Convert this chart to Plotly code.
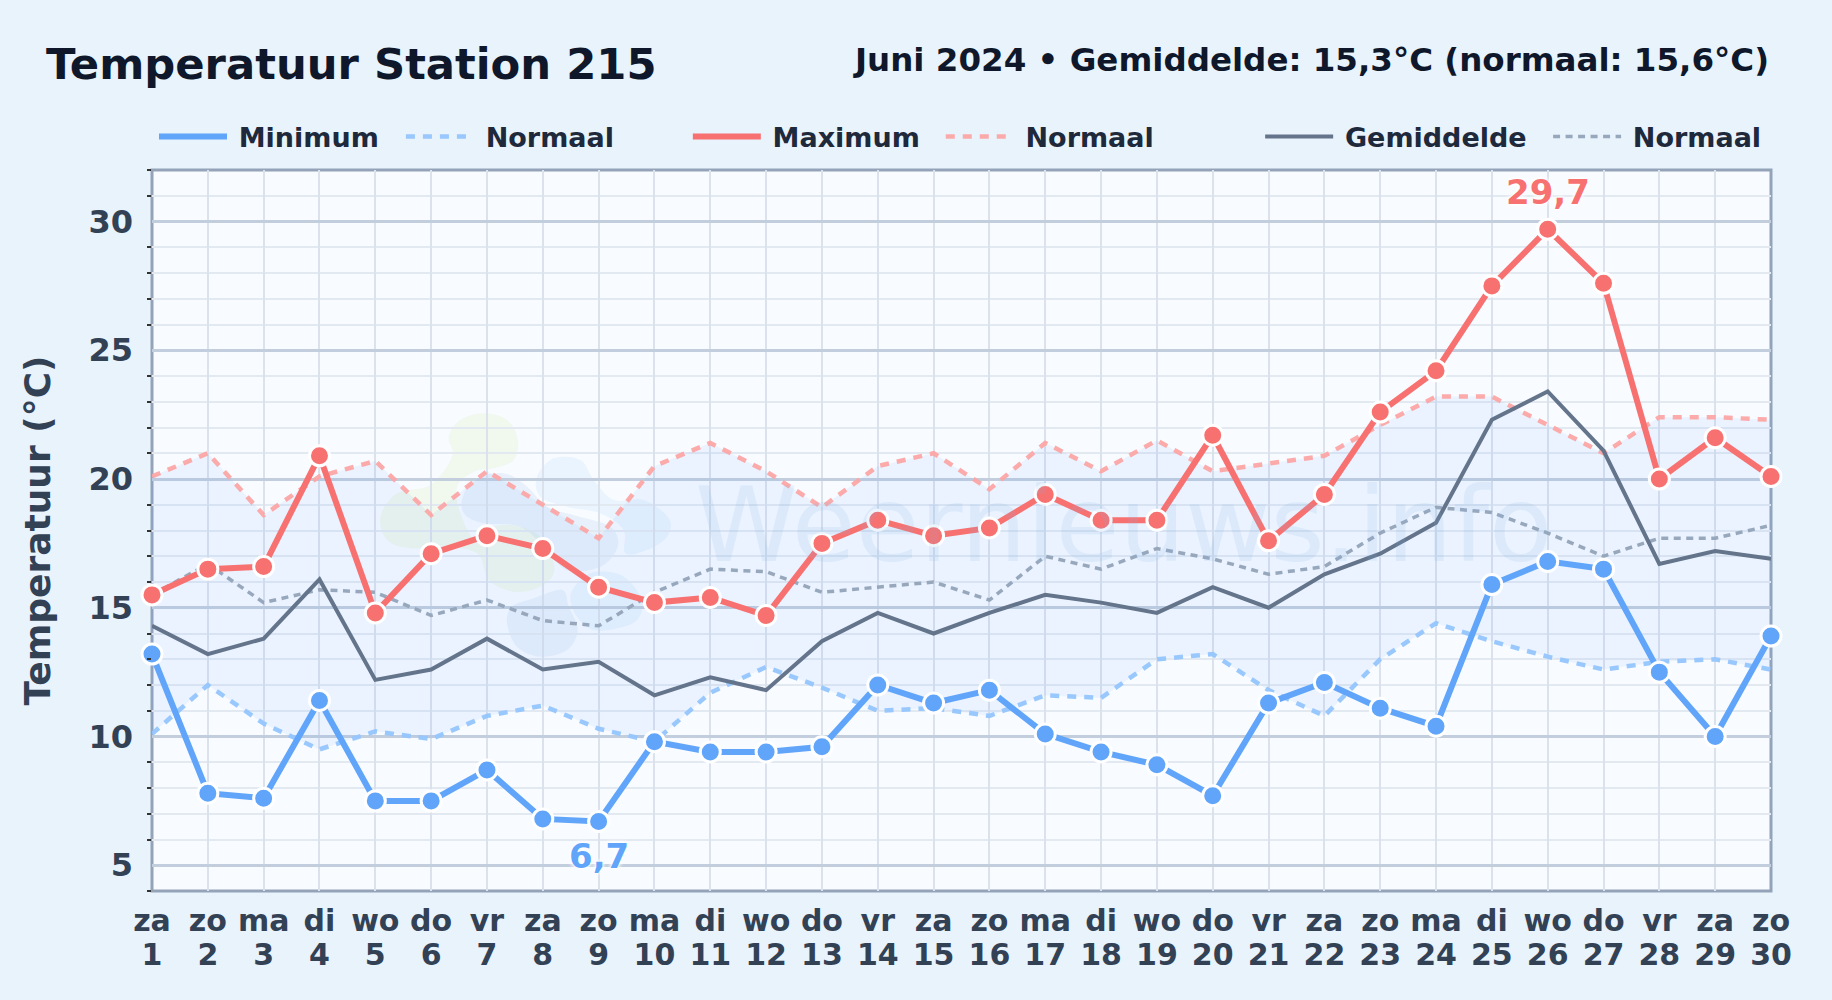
import plotly.graph_objects as go

days = list(range(1, 31))
weekdays = ["za","zo","ma","di","wo","do","vr","za","zo","ma","di","wo","do","vr","za","zo","ma","di","wo","do","vr","za","zo","ma","di","wo","do","vr","za","zo"]
t_min = [13.2,7.8,7.6,11.4,7.5,7.5,8.7,6.8,6.7,9.8,9.4,9.4,9.6,12.0,11.3,11.8,10.1,9.4,8.9,7.7,11.3,12.1,11.1,10.4,15.9,16.8,16.5,12.5,10.0,13.9]
t_max = [15.5,16.5,16.6,20.9,14.8,17.1,17.8,17.3,15.8,15.2,15.4,14.7,17.5,18.4,17.8,18.1,19.4,18.4,18.4,21.7,17.6,19.4,22.6,24.2,27.5,29.7,27.6,20.0,21.6,20.1]
t_mean = [14.3,13.2,13.8,16.1,12.2,12.6,13.8,12.6,12.9,11.6,12.3,11.8,13.7,14.8,14.0,14.8,15.5,15.2,14.8,15.8,15.0,16.3,17.1,18.3,22.3,23.4,21.1,16.7,17.2,16.9]
norm_min = [10.1,12.0,10.5,9.5,10.2,9.9,10.8,11.2,10.3,9.8,11.7,12.7,11.9,11.0,11.1,10.8,11.6,11.5,13.0,13.2,11.8,10.8,13.0,14.4,13.7,13.1,12.6,12.9,13.0,12.6]
norm_max = [20.1,21.0,18.6,20.1,20.7,18.6,20.3,19.0,17.7,20.5,21.4,20.3,18.9,20.5,21.0,19.6,21.4,20.3,21.5,20.3,20.6,20.9,22.1,23.2,23.2,22.1,21.0,22.4,22.4,22.3]
norm_mean = [15.5,16.7,15.2,15.7,15.6,14.7,15.3,14.5,14.3,15.6,16.5,16.4,15.6,15.8,16.0,15.3,17.0,16.5,17.3,16.9,16.3,16.6,17.9,18.9,18.7,17.9,17.0,17.7,17.7,18.2]

FONT = "DejaVu Sans"
W, H = 1832, 1000
L, R, T, B = 151.5, 1771, 170, 891
BLUE, RED, GRAY = "#60a5fa", "#f87171", "#64748b"
GAP = "\u2005"

fig = go.Figure()

# band between the normal minimum and the normal maximum
fig.add_trace(go.Scatter(x=days, y=norm_min, mode="lines", line=dict(width=0), showlegend=False, hoverinfo="skip"))
fig.add_trace(go.Scatter(x=days, y=norm_max, mode="lines", line=dict(width=0), fill="tonexty",
                         fillcolor="rgba(96,165,250,0.085)", showlegend=False, hoverinfo="skip"))

legend_spec = [
    ("legend", 153.5, t_min, "Minimum", BLUE, 6, "solid"),
    ("legend2", 400.5, norm_min, "Normaal", "rgba(147,197,253,0.95)", 4.5, "9px,8px"),
    ("legend3", 687.5, t_max, "Maximum", RED, 6, "solid"),
    ("legend4", 940.5, norm_max, "Normaal", "rgba(252,165,165,0.95)", 4.5, "9px,8px"),
    ("legend5", 1260, t_mean, "Gemiddelde", GRAY, 4, "solid"),
    ("legend6", 1548, norm_mean, "Normaal", "rgba(148,163,184,0.95)", 3.5, "7px,5.5px"),
]
for idx in (1, 3, 5, 0, 2, 4):
    key, _, vals, name, col, lw, dash = legend_spec[idx]
    fig.add_trace(go.Scatter(x=days, y=vals, mode="lines", name=GAP + name, legend=key,
                             line=dict(color=col, width=lw, dash=dash), cliponaxis=False))

for vals, col in ((t_min, BLUE), (t_max, RED)):
    fig.add_trace(go.Scatter(x=days, y=vals, mode="markers", showlegend=False, cliponaxis=False,
                             marker=dict(color=col, size=20, line=dict(color="white", width=3))))

# carries the second row of x tick labels (day numbers)
fig.add_trace(go.Scatter(x=days, y=t_mean, xaxis="x2", mode="markers", marker=dict(opacity=0),
                         showlegend=False, hoverinfo="skip"))


def blob(points, color, opacity):
    """Closed smooth outline for the faint watermark logo (pixel points of a 3x crop)."""
    pts = [((360 + x / 3 - L) / (R - L), (B - (390 + y / 3)) / (B - T)) for x, y in points]
    n = len(pts)
    path = f"M{pts[0][0]:.5f},{pts[0][1]:.5f}"
    for i in range(n):
        p0, p1, p2, p3 = pts[i - 1], pts[i], pts[(i + 1) % n], pts[(i + 2) % n]
        c1 = (p1[0] + (p2[0] - p0[0]) / 6, p1[1] + (p2[1] - p0[1]) / 6)
        c2 = (p2[0] - (p3[0] - p1[0]) / 6, p2[1] - (p3[1] - p1[1]) / 6)
        path += f" C{c1[0]:.5f},{c1[1]:.5f} {c2[0]:.5f},{c2[1]:.5f} {p2[0]:.5f},{p2[1]:.5f}"
    return dict(type="path", path=path + " Z", xref="paper", yref="paper", layer="below",
                fillcolor=color, opacity=opacity, line=dict(width=0))


shapes = [
    blob([(265,140),(300,90),(370,70),(440,90),(472,150),(460,210),(400,235),(340,245),(290,290),(300,370),(350,460),
          (400,410),(480,410),(550,450),(582,540),(540,590),(460,605),(385,570),(350,490),(250,470),(150,475),(80,450),(60,380),(110,310),(210,285),(275,200)],
         "#dff0c0", 0.28),
    blob([(530,260),(580,205),(660,210),(700,270),(760,330),(850,330),(925,385),(920,440),(860,480),(795,490),(790,420),(720,370),(620,350),(540,320)],
         "#bfe0fb", 0.25),
    blob([(305,330),(340,270),(430,250),(500,290),(560,350),(650,378),(750,410),(772,470),(720,530),(620,540),(560,480),(480,410),(370,400),(315,375)],
         "#a9cbec", 0.20),
    blob([(440,700),(455,650),(520,625),(605,600),(625,650),(652,720),(620,780),(540,800),(470,770)],
         "#a9cbec", 0.20),
    blob([(630,620),(660,570),(710,545),(790,560),(845,630),(830,690),(770,715),(700,720),(650,680)],
         "#bfe0fb", 0.25),
    dict(type="rect", xref="paper", yref="paper", x0=0, x1=1, y0=0, y1=1, layer="below",
         line=dict(color="#94a3b8", width=3), fillcolor="rgba(0,0,0,0)"),
]

annotations = [
    dict(text="Weernieuws.info", xref="paper", yref="paper", x=(1124 - L) / (R - L), y=(B - 525) / (B - T),
         xanchor="center", yanchor="middle", showarrow=False,
         font=dict(family=FONT, size=104, color="rgba(125,175,225,0.14)")),
    dict(text="Juni 2024 • Gemiddelde: 15,3°C (normaal: 15,6°C)", xref="paper", yref="paper",
         x=(1771 - L) / (R - L), y=(B - 60) / (B - T), xanchor="right", yanchor="middle", showarrow=False,
         font=dict(family=FONT, size=32.5, weight=700, color="#0f172a")),
    dict(text="29,7", x=days[t_max.index(max(t_max))], y=max(t_max), yshift=37, showarrow=False,
         font=dict(family=FONT, size=34, weight=700, color=RED, shadow="white 0 0 5px, white 0 0 5px, white 0 0 3px")),
    dict(text="6,7", x=days[t_min.index(min(t_min))], y=min(t_min), yshift=-35, showarrow=False,
         font=dict(family=FONT, size=34, weight=700, color=BLUE, shadow="white 0 0 5px, white 0 0 5px, white 0 0 3px")),
]

layout_legends = {}
for key, px, *_ in legend_spec:
    layout_legends[key] = dict(
        x=(px - L) / (R - L), y=(B - 137) / (B - T), xanchor="left", yanchor="middle",
        orientation="h", itemwidth=68, bgcolor="rgba(0,0,0,0)", borderwidth=0,
        font=dict(family=FONT, size=27, weight=700, color="#1e293b"), itemclick=False, itemdoubleclick=False)

x_font = dict(family=FONT, size=30, weight=700, color="#334155")

fig.update_layout(
    width=W, height=H, autosize=False,
    margin=dict(l=L, r=W - R, t=T, b=H - B, pad=0),
    paper_bgcolor="#e8f3fc", plot_bgcolor="#f8fbff",
    font=dict(family=FONT),
    title=dict(text="Temperatuur Station 215", xref="container", yref="container", x=46 / W, y=1 - 64 / H,
               xanchor="left", yanchor="middle", font=dict(family=FONT, size=43.3, weight=700, color="#0f172a")),
    shapes=shapes, annotations=annotations,
    xaxis=dict(range=[1, 30], tickmode="array", tickvals=days, ticktext=weekdays,
               showgrid=True, gridcolor="#dbe2ec", gridwidth=2, zeroline=False,
               showline=False, ticks="", ticklabelstandoff=9, tickangle=0, tickfont=x_font),
    xaxis2=dict(range=[1, 30], tickmode="array", tickvals=days, ticktext=[str(d) for d in days],
                overlaying="x", anchor="y", side="bottom", showgrid=False, zeroline=False,
                showline=False, ticks="", ticklabelstandoff=43, tickangle=0, tickfont=x_font),
    yaxis=dict(range=[4, 32], tickmode="linear", tick0=0, dtick=5,
               showgrid=True, gridcolor="#c2cedd", gridwidth=3, zeroline=False,
               showline=False, ticks="",
               ticklabelstandoff=18,
               minor=dict(dtick=1, tick0=0, showgrid=True, gridcolor="#e3e9f1", gridwidth=2,
                          ticks="outside", ticklen=4, tickcolor="#333333", tickwidth=1.5),
               tickfont=dict(family=FONT, size=32, weight=700, color="#334155"),
               title=dict(text="Temperatuur (°C)", standoff=26,
                          font=dict(family=FONT, size=36, weight=700, color="#334155"))),
    showlegend=True,
    **layout_legends,
)

fig.write_html("out.html", config=dict(displayModeBar=False),
               post_script="document.body.style.margin='0';document.body.style.overflow='hidden';")
